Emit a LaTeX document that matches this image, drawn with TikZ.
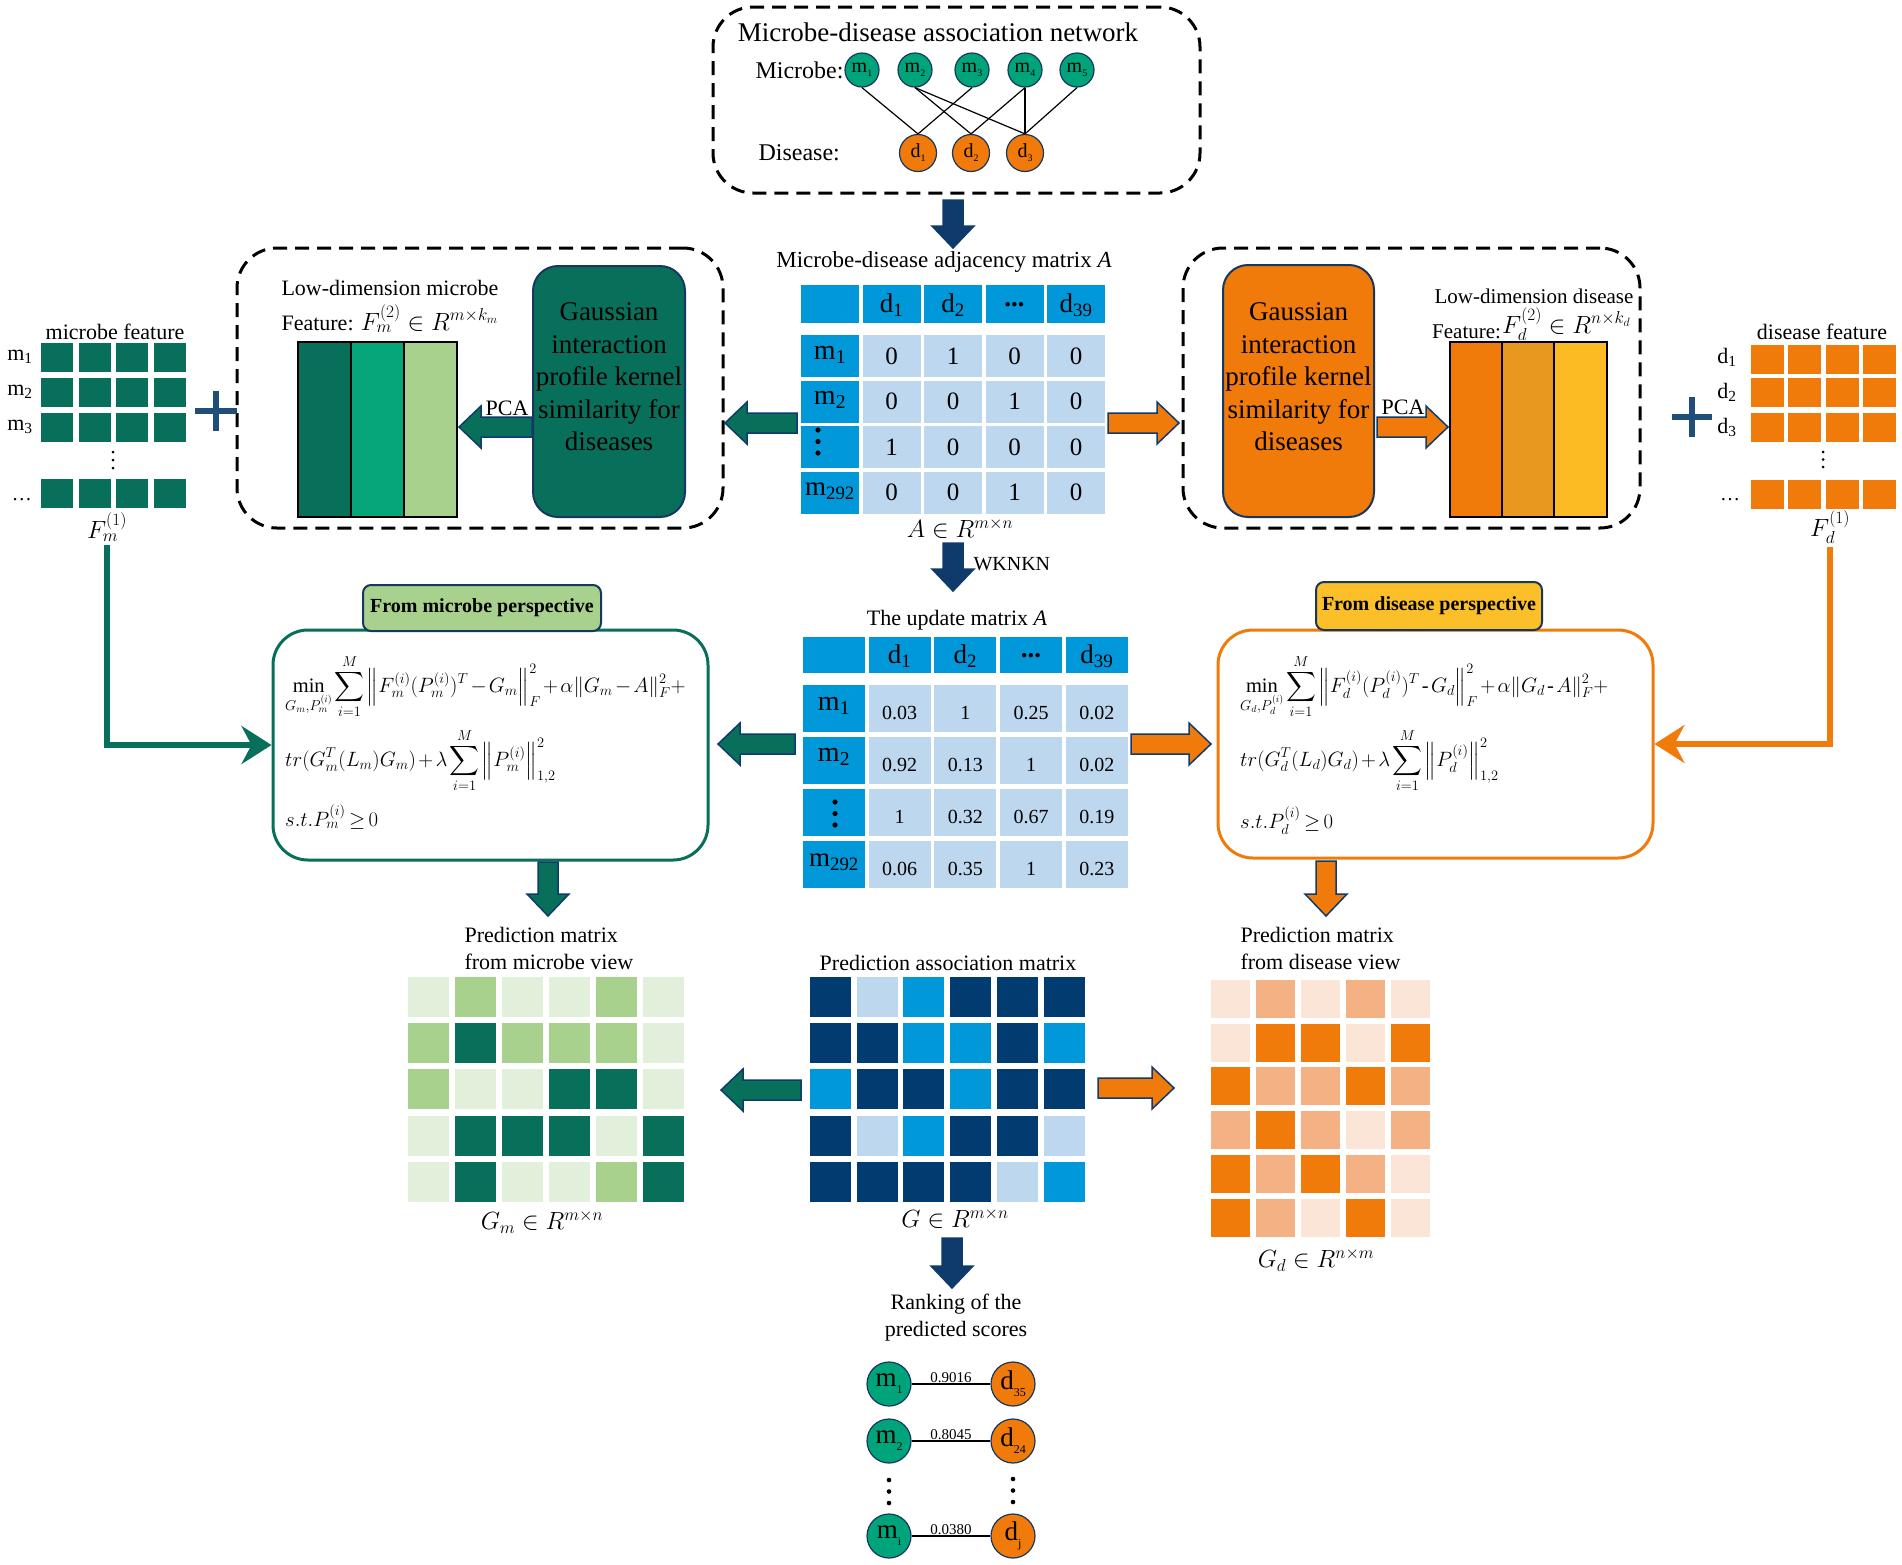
\documentclass[tikz,border=0pt]{standalone}
\usepackage{amsmath}
\usepackage{fontspec}
\setmainfont{Liberation Serif}
\usetikzlibrary{arrows.meta,calc}
\definecolor{navy}{HTML}{17375E}
\definecolor{arrnavy}{HTML}{0F3B6C}
\definecolor{tealc}{HTML}{08705A}
\definecolor{midg}{HTML}{05A678}
\definecolor{circg}{HTML}{00A47A}
\definecolor{orng}{HTML}{F07A0A}
\definecolor{gold}{HTML}{E8981F}
\definecolor{yell}{HTML}{FCBB22}
\definecolor{hblue}{HTML}{0198DA}
\definecolor{lblue}{HTML}{BDD7EE}
\definecolor{plusc}{HTML}{1F4E79}
\definecolor{labelg}{HTML}{A9D18E}
\definecolor{labely}{HTML}{FBBF2A}
\definecolor{gL}{HTML}{E2EFDA}
\definecolor{gM}{HTML}{A9D18E}
\definecolor{gD}{HTML}{08705A}
\definecolor{bL}{HTML}{BDD7EE}
\definecolor{bM}{HTML}{0198DA}
\definecolor{bD}{HTML}{023B70}
\definecolor{oL}{HTML}{FBE5D6}
\definecolor{oM}{HTML}{F4B183}
\definecolor{oD}{HTML}{F07A0A}
\newcommand\fsz[2]{\fontsize{#1}{#2}\selectfont}
\newcommand\smsub[3]{\raisebox{-#3}{\fontsize{#1}{#1}\selectfont #2}}
\newcommand\tightmath{\thinmuskip=2mu \medmuskip=2mu plus 1mu \thickmuskip=3mu plus 1mu}
\newcommand\blk[5]{%
  \begin{scope}[shift={(#2,#3)},rotate=#4]
    \filldraw[fill=#1,draw=arrnavy,line width=1.5pt,line join=miter]
      (0,-10) -- ({#5-22},-10) -- ({#5-22},-21) -- (#5,0) -- ({#5-22},21) -- ({#5-22},10) -- (0,10) -- cycle;
  \end{scope}}
\newcommand\vdts[4]{%
  \fill (#1,#2) circle (#4) (#1,{#2+#3}) circle (#4) (#1,{#2+2*#3}) circle (#4);}
\tikzset{
  dbox/.style={draw=black, line width=3pt, dash pattern=on 14pt off 8pt, rounded corners=40pt, inner sep=0pt},
  gbox/.style={draw=navy, line width=2pt, rounded corners=25pt, inner sep=0pt},
  fbox/.style={line width=3pt, rounded corners=35pt, inner sep=0pt, fill=white},
  tagbox/.style={draw=navy, line width=2pt, rounded corners=8pt, inner sep=0pt, font=\fsz{20}{24}\bfseries},
  mcirc/.style={circle, draw=navy, line width=1.2pt, fill=circg, inner sep=0pt, minimum size=34pt, font=\fsz{20}{24}},
  dcirc/.style={circle, draw=navy, line width=1.2pt, fill=orng, inner sep=0pt, minimum size=37pt, font=\fsz{20}{24}},
  rmcirc/.style={circle, draw=navy, line width=1.2pt, fill=circg, inner sep=0pt, minimum size=44pt, font=\fsz{27}{30}},
  rdcirc/.style={circle, draw=navy, line width=1.2pt, fill=orng, inner sep=0pt, minimum size=44pt, font=\fsz{27}{30}},
  gtext/.style={align=center, font=\fsz{27}{32.5}, inner sep=0pt},
  edge/.style={draw=black, line width=1.2pt},
  fline/.style={anchor=base west, inner sep=0pt, font=\fsz{20.5}{24}\tightmath},
}
\begin{document}
\begin{tikzpicture}[x=1pt,y=-1pt]
\useasboundingbox (0,0) rectangle (1902,1564);
\fill[white] (0,0) rectangle (1902,1564);

% ---------------- network box
\node[dbox, minimum width=487pt, minimum height=186pt] (netbox) at (956.5,100) {};
\node[font=\fsz{27}{30}] (nettitle) at (938,32) {Microbe-disease association network};
\node[anchor=west, font=\fsz{24}{28}] (mlab) at (752,70) {Microbe:};
\node[anchor=west, font=\fsz{24}{28}] (dlab) at (755,153) {Disease:};
\foreach \x [count=\i] in {862,915,972,1025,1077}
  \node[mcirc] (m\i) at (\x,70) {m\smsub{10}{\i}{4pt}};
\foreach \x [count=\i] in {918,971,1025}
  \node[dcirc] (d\i) at (\x,153) {d\smsub{10}{\i}{4pt}};
\draw[edge] (m1.south) -- (d1.north);
\draw[edge] (m2.south) -- (d2.north);
\draw[edge] (m2.south) -- (d3.north);
\draw[edge] (m3.south) -- (d1.north);
\draw[edge] (m4.south) -- (d2.north);
\draw[edge] (m4.south) -- (d3.north);
\draw[edge] (m5.south) -- (d3.north);

\blk{arrnavy}{953}{200}{-90}{48}

% ---------------- adjacency matrix A
\node[font=\fsz{23}{27}] (atitle) at (944,262) {Microbe-disease adjacency matrix \textit{A}};
\foreach \c in {0,...,4} \fill[hblue] ({801+61.5*\c},285) rectangle ++(58,38);
\foreach \r in {0,...,3} {
  \fill[hblue] (801,{335+45.5*\r}) rectangle ++(58,42);
  \foreach \c in {1,...,4} \fill[lblue] ({801+61.5*\c},{335+45.5*\r}) rectangle ++(58,42);
}
\foreach \h [count=\c] in {d\textsubscript{1},d\textsubscript{2},\textbf{...},d\textsubscript{39}}
  \node[font=\fsz{27}{30}] (ah\c) at ({830+61.5*\c},305) {\h};
\node[font=\fsz{28}{30}] (ar0) at (830,355) {m\textsubscript{1}};
\node[font=\fsz{28}{30}] (ar1) at (830,400) {m\textsubscript{2}};
\node[font=\fsz{27}{30}] (ar3) at (830,491) {m\textsubscript{292}};
\vdts{818}{430}{11.5}{2.6pt}
\foreach \row [count=\r from 0] in {{0,1,0,0},{0,0,1,0},{1,0,0,0},{0,0,1,0}}
  \foreach \v [count=\c] in \row
    \node[font=\fsz{25}{30}] (a-\r-\c) at ({830+61.5*\c},{356+45.5*\r}) {\v};
\node[font=\fsz{24}{28}] (aset) at (960,528) {$A\in R^{m\times n}$};

\blk{arrnavy}{953}{543}{-90}{48}
\node[anchor=west, font=\fsz{20}{24}] (wk) at (970,564) {WKNKN};

% ---------------- update matrix
\node[font=\fsz{22}{26}] (utitle) at (957,620) {The update matrix \textit{A}};
\foreach \c in {0,...,4} \fill[hblue] ({803+65.7*\c},637) rectangle ++(62,36);
\foreach \r in {0,...,3} {
  \fill[hblue] (803,{685+52*\r}) rectangle ++(62,47);
  \foreach \c in {1,...,4} \fill[lblue] ({803+65.7*\c},{685+52*\r}) rectangle ++(62,47);
}
\foreach \h [count=\c] in {d\textsubscript{1},d\textsubscript{2},\textbf{...},d\textsubscript{39}}
  \node[font=\fsz{27}{30}] (uh\c) at ({834+65.7*\c},656) {\h};
\node[font=\fsz{28}{30}] (ur0) at (834,706) {m\textsubscript{1}};
\node[font=\fsz{28}{30}] (ur1) at (834,757) {m\textsubscript{2}};
\node[font=\fsz{27}{30}] (ur3) at (834,862) {m\textsubscript{292}};
\vdts{835}{802}{11.5}{2.6pt}
\foreach \row [count=\r from 0] in {{0.03,1,0.25,0.02},{0.92,0.13,1,0.02},{1,0.32,0.67,0.19},{0.06,0.35,1,0.23}}
  \foreach \v [count=\c] in \row
    \node[font=\fsz{20}{24}] (u-\r-\c) at ({834+65.7*\c},{713+52*\r}) {\v};

% ---------------- left dashed box
\node[dbox, minimum width=486pt, minimum height=280pt] (lbox) at (480,388) {};
\node[anchor=base west, font=\fsz{22}{25}] (lowm) at (278,295) {Low-dimension microbe};
\node[anchor=base west, font=\fsz{22}{25}] (featm) at (278,330) {Feature: {\fsz{25}{28}$F_m^{(2)}\in R^{m\times k_m}$}};
\filldraw[fill=tealc, draw=black, line width=1.5pt] (298,342) rectangle (351,517);
\filldraw[fill=midg, draw=black, line width=1.5pt] (351,342) rectangle (404,517);
\filldraw[fill=labelg, draw=black, line width=1.5pt] (404,342) rectangle (457,517);
\node[gbox, fill=tealc, minimum width=152pt, minimum height=251pt] (gaussL) at (609,391.5) {};
\node[gtext] (gaussLt) at (609,377) {Gaussian\\interaction\\profile kernel\\similarity for\\diseases};
\blk{tealc}{532}{427}{180}{73}
\node[font=\fsz{22}{26}] (pcaL) at (507,408) {PCA};
\blk{tealc}{797}{423}{180}{72}

% ---------------- right dashed box
\node[dbox, minimum width=457pt, minimum height=280pt] (rbox) at (1411.5,388) {};
\node[gbox, fill=orng, minimum width=151pt, minimum height=252pt] (gaussR) at (1298.5,391) {};
\node[gtext] (gaussRt) at (1298.5,377) {Gaussian\\interaction\\profile kernel\\similarity for\\diseases};
\blk{orng}{1377}{427}{0}{71}
\node[font=\fsz{22}{26}] (pcaR) at (1403,407) {PCA};
\filldraw[fill=orng, draw=black, line width=1.5pt] (1450,342) rectangle (1502,517);
\filldraw[fill=gold, draw=black, line width=1.5pt] (1502,342) rectangle (1554,517);
\filldraw[fill=yell, draw=black, line width=1.5pt] (1554,342) rectangle (1607,517);
\node[anchor=base west, font=\fsz{21}{25}] (lowd) at (1431,303) {Low-dimension disease};
\node[anchor=base west, inner sep=0pt, font=\fsz{21}{25}] (featd) at (1432,338) {Feature:};
\node[anchor=base west, inner sep=0pt, font=\fsz{24}{28}] (featdm) at (1502,333) {$F_d^{(2)}\in R^{n\times k_d}$};
\blk{orng}{1108}{423}{0}{71}

% ---------------- left feature grid
\node[font=\fsz{22}{24}] (mft) at (115,332) {microbe feature};
\foreach \y in {343,378,413,479}
  \foreach \c in {0,...,3}
    \fill[tealc] ({41+37.5*\c},\y) rectangle ++(32,29);
\node[font=\fsz{22}{26}] (fm1) at (20,357) {m\textsubscript{1}};
\node[font=\fsz{22}{26}] (fm2) at (20,392) {m\textsubscript{2}};
\node[font=\fsz{22}{26}] (fm3) at (20,427) {m\textsubscript{3}};
\node[anchor=base, font=\fsz{20}{24}] (fmd) at (22,500) {\dots};
\vdts{113}{452}{8}{1.5pt}
\node[font=\fsz{26}{30}] (Fm1) at (107,527) {$F_m^{(1)}$};
\draw[plusc, line width=6pt] (195,411) -- (237,411) (216,391) -- (216,431);

% ---------------- right feature grid
\node[font=\fsz{22}{24}] (dft) at (1822,332) {disease feature};
\foreach \y in {345,378,413,480}
  \foreach \c in {0,...,3}
    \fill[orng] ({1751+37.3*\c},\y) rectangle ++(33,29);
\node[font=\fsz{22}{26}] (fd1) at (1727,357) {d\textsubscript{1}};
\node[font=\fsz{22}{26}] (fd2) at (1727,392) {d\textsubscript{2}};
\node[font=\fsz{22}{26}] (fd3) at (1727,427) {d\textsubscript{3}};
\node[anchor=base, font=\fsz{20}{24}] (fdd) at (1730,500) {\dots};
\vdts{1823}{452}{7.5}{1.5pt}
\node[font=\fsz{26}{30}] (Fd1) at (1830,527) {$F_d^{(1)}$};
\draw[plusc, line width=6pt] (1672,417) -- (1712,417) (1692,397) -- (1692,437);

% ---------------- formula boxes
\node[fbox, draw=tealc, minimum width=435pt, minimum height=230pt] (fboxL) at (490.5,745) {};
\node[tagbox, fill=labelg, minimum width=238pt, minimum height=46pt] (tagL) at (482,608) {From microbe perspective};
\node[fline] (fl1) at (285,692)
  {$\displaystyle\min_{G_m,P_m^{(i)}}\sum_{i=1}^{M}\Big\|F_m^{(i)}(P_m^{(i)})^T-G_m\Big\|_F^2+\alpha\|G_m-A\|_F^2+$};
\node[fline] (fl2) at (285,766)
  {$\displaystyle tr(G_m^T(L_m)G_m)+\lambda\sum_{i=1}^{M}\Big\|P_m^{(i)}\Big\|_{1,2}^2$};
\node[fline] (fl3) at (285,826) {$s.t.P_m^{(i)}\ge 0$};

\node[fbox, draw=orng, minimum width=435pt, minimum height=228pt] (fboxR) at (1435.5,744) {};
\node[tagbox, fill=labely, minimum width=226pt, minimum height=48pt] (tagR) at (1429,606) {From disease perspective};
\node[fline] (fr1) at (1240,692)
  {$\displaystyle\min_{G_d,P_d^{(i)}}\sum_{i=1}^{M}\Big\|F_d^{(i)}(P_d^{(i)})^T\,\text{-}\,G_d\Big\|_F^2+\alpha\|G_d\,\text{-}\,A\|_F^2+$};
\node[fline] (fr2) at (1240,766)
  {$\displaystyle tr(G_d^T(L_d)G_d)+\lambda\sum_{i=1}^{M}\Big\|P_d^{(i)}\Big\|_{1,2}^2$};
\node[fline] (fr3) at (1240,828) {$s.t.P_d^{(i)}\ge 0$};

% elbow connectors
\draw[tealc, line width=6pt, -{Stealth[length=30pt,width=38pt,inset=10pt]}] (Fm1.south) |- (fboxL.west);
\draw[orng, line width=6pt, -{Stealth[length=30pt,width=38pt,inset=10pt]}] (Fd1.south) |- (fboxR.east);

\blk{tealc}{795}{744}{180}{77}
\blk{orng}{1131}{744}{0}{80}
\blk{tealc}{548}{862}{-90}{54}
\blk{orng}{1326}{861}{-90}{55}

% ---------------- prediction matrices
\node[anchor=west, align=left, font=\fsz{22}{27}] (pmt) at (461,948) {Prediction matrix\\from microbe view};
\foreach \row [count=\r from 0] in {{L,M,L,L,M,L},{M,D,M,M,M,L},{M,L,L,D,D,L},{L,D,D,D,L,D},{L,D,L,L,M,D}}
  \foreach \k [count=\c from 0] in \row
    \fill[g\k] ({408+47*\c},{977+46.2*\r}) rectangle ++(41,40);
\node[font=\fsz{24}{28}] (gmset) at (542,1222) {$G_m\in R^{m\times n}$};

\node[font=\fsz{22}{27}] (pat) at (948,963) {Prediction association matrix};
\foreach \row [count=\r from 0] in {{D,L,M,D,D,D},{D,D,M,M,D,M},{M,D,D,M,D,D},{D,L,M,D,D,L},{D,D,D,D,L,M}}
  \foreach \k [count=\c from 0] in \row
    \fill[b\k] ({810+46.7*\c},{977+46.2*\r}) rectangle ++(41,40);
\node[font=\fsz{24}{28}] (gset) at (955,1218) {$G\in R^{m\times n}$};

\node[anchor=west, align=left, font=\fsz{22}{27}] (pdt) at (1237,948) {Prediction matrix\\from disease view};
\foreach \row [count=\r from 0] in {{L,M,L,M,L},{L,D,D,L,D},{D,M,M,D,M},{M,D,M,L,M},{D,M,D,M,L},{D,M,L,D,L}}
  \foreach \k [count=\c from 0] in \row
    \fill[o\k] ({1211+45*\c},{980+43.7*\r}) rectangle ++(39,38);
\node[font=\fsz{24}{28}] (gdset) at (1316,1260) {$G_d\in R^{n\times m}$};

\blk{tealc}{801}{1090}{180}{80}
\blk{orng}{1098}{1088}{0}{76}
\blk{arrnavy}{952}{1238}{-90}{50}

% ---------------- ranking
\node[align=center, font=\fsz{22}{27}] (rank) at (956,1318) {Ranking of the\\predicted scores};
\node[rmcirc] (rm1) at (889,1384) {m\smsub{12}{1}{7pt}};
\node[rdcirc] (rd1) at (1013,1384) {d\smsub{12}{35}{7pt}};
\node[rmcirc] (rm2) at (889,1441) {m\smsub{12}{2}{7pt}};
\node[rdcirc] (rd2) at (1013,1441) {d\smsub{12}{24}{7pt}};
\node[rmcirc] (rm3) at (889,1536) {m\smsub{12}{i}{7pt}};
\node[rdcirc] (rd3) at (1013,1536) {d\smsub{12}{j}{7pt}};
\draw[edge] (rm1) -- node[above, inner sep=1pt, font=\fsz{15}{17}] (s1) {0.9016} (rd1);
\draw[edge] (rm2) -- node[above, inner sep=1pt, font=\fsz{15}{17}] (s2) {0.8045} (rd2);
\draw[edge] (rm3) -- node[above, inner sep=1pt, font=\fsz{15}{17}] (s3) {0.0380} (rd3);
\vdts{889}{1480}{11.5}{2.3pt}
\vdts{1013}{1479}{11.5}{2.3pt}
\end{tikzpicture}
\end{document}
